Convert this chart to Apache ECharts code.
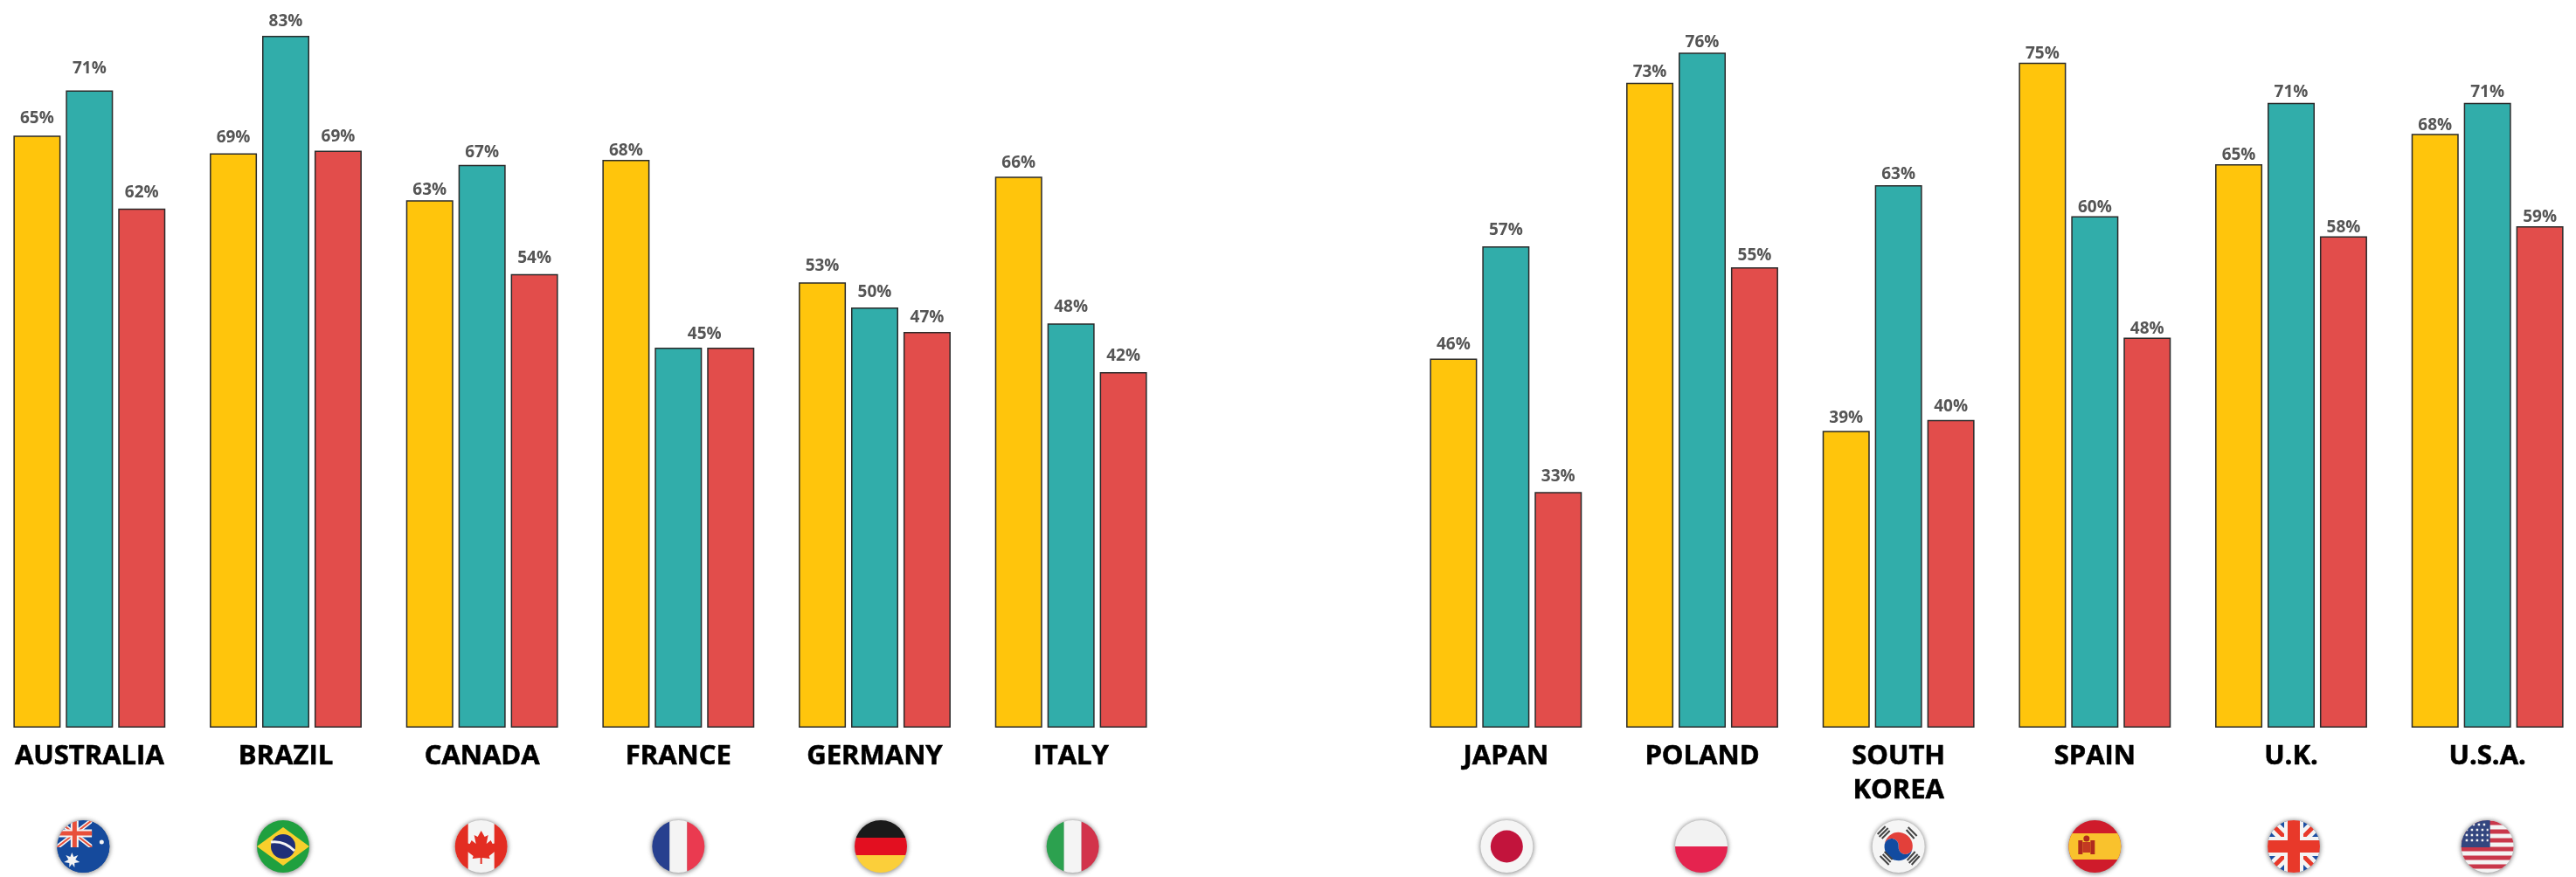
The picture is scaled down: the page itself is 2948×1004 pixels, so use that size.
<!DOCTYPE html>
<html>
<head>
<meta charset="utf-8">
<style>
  html, body { margin: 0; background: #fff; }
  #main { width: 2948px; height: 1004px; }
</style>
<script src="https://cdn.jsdelivr.net/npm/echarts@6/dist/echarts.min.js"></script>
</head>
<body>
<div id="main"></div>
<script>
const leftCountries = ['AUSTRALIA', 'BRAZIL', 'CANADA', 'FRANCE', 'GERMANY', 'ITALY'];
const rightCountries = ['JAPAN', 'POLAND', 'SOUTH KOREA', 'SPAIN', 'U.K.', 'U.S.A.'];
const leftFlags = ['au', 'br', 'ca', 'fr', 'de', 'it'];
const rightFlags = ['jp', 'pl', 'kr', 'es', 'uk', 'us'];

// bar heights as drawn in the picture, they don't always agree with the printed number
const leftYellow = [70.6, 68.5, 62.9, 67.7, 53.1, 65.7];
const leftTeal = [76.0, 82.5, 67.1, 45.3, 50.1, 48.2];
const leftRed = [61.9, 68.8, 54.1, 45.3, 47.2, 42.4];
const rightYellow = [44.0, 76.9, 35.4, 79.3, 67.2, 70.8];
const rightTeal = [57.4, 80.5, 64.7, 61.0, 74.5, 74.5];
const rightRed = [28.1, 54.9, 36.7, 46.5, 58.6, 59.8];

// printed labels, null = no label (France has one 45% shared by teal and red)
const leftYellowText = [65, 69, 63, 68, 53, 66];
const leftTealText = [71, 83, 67, null, 50, 48];
const leftRedText = [62, 69, 54, 45, 47, 42];
const rightYellowText = [46, 73, 39, 75, 65, 68];
const rightTealText = [57, 76, 63, 60, 71, 71];
const rightRedText = [33, 55, 40, 48, 58, 59];

// the labels float at uneven heights in the original, distance in px from the bar top
const leftYellowGap = [10, 8, 2, 1, 9, 6];
const leftTealGap = [15, 7, 5, 0, 8, 9];
const leftRedGap = [9, 6, 9, 6, 7, 9];
const rightYellowGap = [7, 3, 5, 1, 1, 0];
const rightTealGap = [9, 2, 3, 0, 3, 3];
const rightRedGap = [8, 4, 6, 1, 0, 1];

const flagArt = {
  au: '<rect width="70" height="70" fill="#154a9c"/>' +
      '<path d="M5 5L45 36M45 5L5 36" stroke="#f4f4f4" stroke-width="5"/>' +
      '<path d="M5 5L45 36M45 5L5 36" stroke="#e8503a" stroke-width="2"/>' +
      '<path d="M25 5V36M5 20H45" stroke="#f4f4f4" stroke-width="9"/>' +
      '<path d="M25 5V36M5 20H45" stroke="#e8503a" stroke-width="5"/>' +
      '<rect y="36" width="70" height="34" fill="#154a9c"/><rect x="45" width="25" height="36" fill="#154a9c"/>' +
      '<path d="M22 42L24 47L29 45L26 50L31 53L25 54L25 59L22 55L19 59L19 54L13 53L18 50L15 45L20 47Z" fill="#f4f4f4"/>' +
      '<circle cx="56" cy="30" r="2.5" fill="#f4f4f4"/>',
  br: '<rect width="70" height="70" fill="#1fa03f"/>' +
      '<path d="M35 13L65 35L35 57L5 35Z" fill="#f8cf2c"/>' +
      '<circle cx="35" cy="35" r="14" fill="#1f2f78"/>' +
      '<path d="M21 30Q36 28 48 40" stroke="#f4f4f4" stroke-width="3" fill="none"/>',
  ca: '<rect width="70" height="70" fill="#f4f4f4"/>' +
      '<rect x="0" width="20" height="70" fill="#e32d22"/><rect x="50" width="20" height="70" fill="#e32d22"/>' +
      '<path d="M35 17L39 24L43 22L41 32L46 28L48 32L53 31L51 37L53 39L44 46L45 49L36 48V55H34V48L25 49L26 46L17 39L19 37L17 31L22 32L24 28L29 32L27 22L31 24Z" fill="#e32d22"/>',
  fr: '<rect width="25" height="70" fill="#27408f"/><rect x="25" width="20" height="70" fill="#f4f4f4"/><rect x="45" width="25" height="70" fill="#ea3a50"/>',
  de: '<rect width="70" height="25" fill="#1a1a1a"/><rect y="25" width="70" height="20" fill="#e30f20"/><rect y="45" width="70" height="25" fill="#fbcf3a"/>',
  it: '<rect width="25" height="70" fill="#2ca14f"/><rect x="25" width="20" height="70" fill="#f4f4f4"/><rect x="45" width="25" height="70" fill="#d2334b"/>',
  jp: '<rect width="70" height="70" fill="#f5f5f5"/><circle cx="35" cy="35" r="18.5" fill="#c2143c"/>',
  pl: '<rect width="70" height="35" fill="#f2f2f2"/><rect y="35" width="70" height="35" fill="#e5234f"/>',
  kr: '<rect width="70" height="70" fill="#f5f5f5"/>' +
      '<path d="M19 33A16 16 0 0 1 51 37A8 8 0 0 1 35 35A8 8 0 0 0 19 33Z" fill="#e3403a"/>' +
      '<path d="M19 33A16 16 0 0 0 51 37A8 8 0 0 1 35 35A8 8 0 0 0 19 33Z" fill="#124ba0"/>' +
      '<g stroke="#444" stroke-width="2"><path d="M11 21L20 12M13 24L23 14M16 26L25 17M46 13L56 23M44 16L53 26M59 46L50 56M57 44L47 54M54 41L45 51M24 56L14 46M26 53L17 44M28 50L19 41"/></g>',
  es: '<rect width="70" height="70" fill="#cf1b2b"/><rect y="20" width="70" height="30" fill="#f9c22d"/>' +
      '<rect x="16" y="28" width="5" height="16" fill="#b02a1e"/><rect x="30" y="28" width="5" height="16" fill="#b02a1e"/>' +
      '<rect x="21" y="30" width="9" height="12" fill="#c33a22"/><circle cx="25.5" cy="26" r="3.5" fill="#b02a1e"/>',
  uk: '<rect width="70" height="70" fill="#1c4fa3"/>' +
      '<path d="M0 0L70 70M70 0L0 70" stroke="#f4f4f4" stroke-width="14"/>' +
      '<path d="M0 0L70 70M70 0L0 70" stroke="#e8392a" stroke-width="5"/>' +
      '<path d="M35 0V70M0 35H70" stroke="#f4f4f4" stroke-width="22"/>' +
      '<path d="M35 0V70M0 35H70" stroke="#e8392a" stroke-width="14"/>',
  us: '<rect width="70" height="70" fill="#f4f4f4"/>' +
      '<path d="M0 8H70M0 18H70M0 28H70M0 38H70M0 48H70M0 58H70" stroke="#c9374a" stroke-width="5"/>' +
      '<rect width="38" height="36" fill="#33467f"/>' +
      '<path d="M12 10h24M10 16h26M10 22h26M10 28h26" stroke="#f4f4f4" stroke-width="2.5" stroke-dasharray="2.5 3.5"/>'
};

// some flags sit a little off the group centre in the original
const flagNudge = { au: -7, br: -3, ca: -1, de: 7, it: 2, jp: 1, pl: -1, uk: 3 };

function flagImage(art, dx) {
  const svg = '<svg xmlns="http://www.w3.org/2000/svg" width="90" height="70" viewBox="0 0 90 70">' +
    '<defs><clipPath id="c"><circle cx="35" cy="35" r="30"/></clipPath>' +
    '<filter id="b" x="-30%" y="-30%" width="160%" height="160%"><feGaussianBlur stdDeviation="2.5"/></filter></defs>' +
    '<g transform="translate(' + (10 + dx) + ' 0)">' +
    '<circle cx="35" cy="35.5" r="31" fill="#777" opacity="0.8" filter="url(#b)"/>' +
    '<g clip-path="url(#c)">' + art + '</g></g></svg>';
  return 'data:image/svg+xml;charset=utf-8,' + encodeURIComponent(svg);
}

const flagRich = {};
Object.keys(flagArt).forEach(function (code) {
  flagRich[code] = { width: 90, height: 70, backgroundColor: { image: flagImage(flagArt[code], flagNudge[code] || 0) } };
});

const hidden = { axisLine: { show: false }, axisTick: { show: false }, splitLine: { show: false } };

function nameAxis(gridIndex, names) {
  return Object.assign({
    type: 'category', position: 'bottom', gridIndex: gridIndex, data: names,
    axisLabel: {
      interval: 0, margin: 14, color: '#000', fontFamily: 'Open Sans', fontWeight: 700,
      fontSize: 31, lineHeight: 39, hideOverlap: false, textBorderColor: '#000', textBorderWidth: 0.6,
      formatter: function (v) { return v.replace(' ', '\n'); }
    }
  }, hidden);
}

function flagAxis(gridIndex, names, codes) {
  return Object.assign({
    type: 'category', position: 'bottom', gridIndex: gridIndex, data: names,
    axisLabel: {
      interval: 0, margin: 101, rich: flagRich,
      formatter: function (v, i) { return '{' + codes[i] + '|}'; }
    }
  }, hidden);
}

function barSeries(axisIndex, values, printed, gaps, color, shiftLabel) {
  return {
    type: 'bar', xAxisIndex: axisIndex, yAxisIndex: axisIndex / 2,
    data: values.map(function (v, i) {
      return {
        value: v,
        label: {
          show: printed[i] !== null,
          distance: gaps[i],
          offset: shiftLabel && shiftLabel[i] ? [shiftLabel[i], 0] : [0, 0]
        }
      };
    }),
    barWidth: 54, barGap: '11%',
    itemStyle: { color: color, borderColor: '#2a2a2a', borderWidth: 1.5 },
    label: {
      show: true, position: 'top', color: '#555',
      fontFamily: 'Open Sans', fontWeight: 700, fontSize: 19,
      formatter: function (p) { return printed[p.dataIndex] + '%'; }
    }
  };
}

const valueAxis = { type: 'value', min: 0, max: 85, show: false };

const chart = echarts.init(document.getElementById('main'));
chart.setOption({
  animation: false,
  backgroundColor: '#fff',
  grid: [
    { left: -10, top: 17, width: 1348, height: 816, outerBoundsMode: 'none' },
    { left: 1611, top: 17, width: 1348, height: 816, outerBoundsMode: 'none' }
  ],
  xAxis: [
    nameAxis(0, leftCountries), flagAxis(0, leftCountries, leftFlags),
    nameAxis(1, rightCountries), flagAxis(1, rightCountries, rightFlags)
  ],
  yAxis: [
    Object.assign({ gridIndex: 0 }, valueAxis),
    Object.assign({ gridIndex: 1 }, valueAxis)
  ],
  series: [
    barSeries(0, leftYellow, leftYellowText, leftYellowGap, '#ffc50c'),
    barSeries(0, leftTeal, leftTealText, leftTealGap, '#31adaa'),
    barSeries(0, leftRed, leftRedText, leftRedGap, '#e24d4b', { 3: -30 }),
    barSeries(2, rightYellow, rightYellowText, rightYellowGap, '#ffc50c'),
    barSeries(2, rightTeal, rightTealText, rightTealGap, '#31adaa'),
    barSeries(2, rightRed, rightRedText, rightRedGap, '#e24d4b')
  ]
});
</script>
</body>
</html>
